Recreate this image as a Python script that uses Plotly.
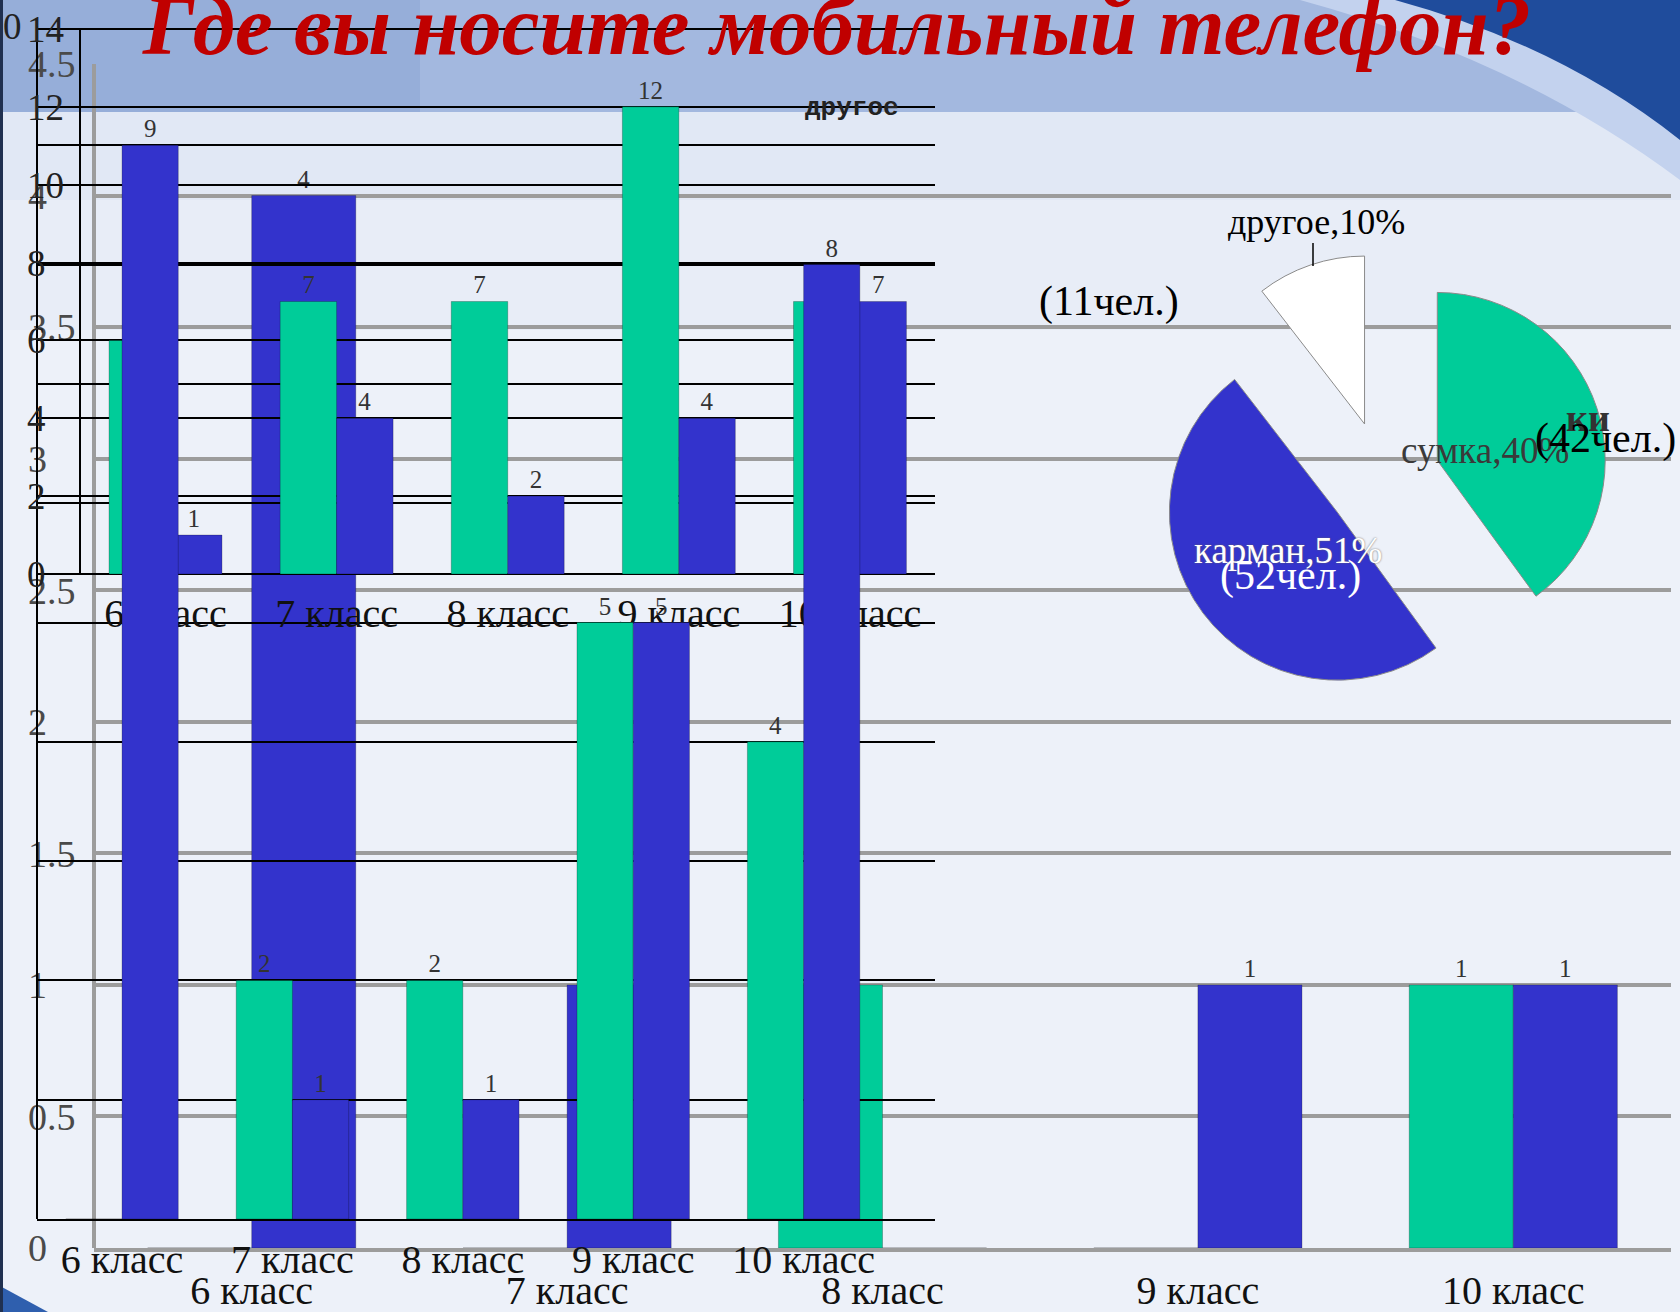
import plotly.graph_objects as go

W, H = 1680, 1312

grades = ["6 класс", "7 класс", "8 класс", "9 класс", "10 класс"]

# background chart (scale 0–4.5)
back_green = [0, 0, 1, 0, 1]
back_blue = [4, 1, 0, 1, 1]
back_ticks = [0, 0.5, 1, 1.5, 2, 2.5, 3, 3.5, 4, 4.5]

# middle chart (scale 0–10)
mid_green = [0, 2, 2, 5, 4]
mid_blue = [9, 1, 1, 5, 8]
mid_ticks = [0, 1, 2, 3, 4, 5, 6, 7, 8, 9, 10]
mid_ticktext = ["", "", "", "", "", "", "", "", "", "", "10"]

# top chart (scale 0–14)
top_green = [6, 7, 7, 12, 7]
top_blue = [1, 4, 2, 4, 7]
top_ticks = [0, 2, 4, 6, 8, 10, 12, 14]

# pie
pie_labels = ["сумка", "карман", "другое"]
pie_values = [42, 52, 11]
pie_percent = [40, 51, 10]

title_text = "Где вы носите мобильный телефон?"

GREEN = "#00CC99"
BLUE = "#3333CC"
FONT = "Liberation Serif"


def fx(p):
    return p / W


def fy(p):
    return 1 - p / H


def lbl(vals):
    return [str(v) if v else "" for v in vals]


fig = go.Figure()

bar_common = dict(
    textposition="outside",
    textfont=dict(family=FONT, size=25, color="#333333"),
    cliponaxis=False,
    constraintext="none",
    showlegend=False,
    hoverinfo="skip",
    marker_line=dict(width=0.8, color="rgba(0,0,0,0.3)"),
)

fig.add_trace(go.Bar(x=grades, y=back_green, text=lbl(back_green), marker_color=GREEN,
                     xaxis="x", yaxis="y", **bar_common))
fig.add_trace(go.Bar(x=grades, y=back_blue, text=lbl(back_blue), marker_color=BLUE,
                     xaxis="x", yaxis="y", **bar_common))
fig.add_trace(go.Bar(x=grades, y=top_green, text=lbl(top_green), marker_color=GREEN,
                     xaxis="x2", yaxis="y2", **bar_common))
fig.add_trace(go.Bar(x=grades, y=top_blue, text=lbl(top_blue), marker_color=BLUE,
                     xaxis="x2", yaxis="y2", **bar_common))
fig.add_trace(go.Bar(x=grades, y=mid_green, text=lbl(mid_green), marker_color=GREEN,
                     xaxis="x3", yaxis="y3", **bar_common))
fig.add_trace(go.Bar(x=grades, y=mid_blue, text=lbl(mid_blue), marker_color=BLUE,
                     xaxis="x3", yaxis="y3", **bar_common))

fig.add_trace(go.Pie(
    labels=pie_labels, values=pie_values,
    marker=dict(colors=[GREEN, BLUE, "white"], line=dict(color="#8a8a8a", width=1)),
    pull=[0.34, 0.34, 0.34], sort=False, direction="clockwise", rotation=0,
    textinfo="none", hoverinfo="skip", showlegend=False,
    domain=dict(x=[fx(1158), fx(1608)], y=[fy(703), fy(253)]),
))

tick_font_y = dict(family=FONT, size=37, color="#222222")
tick_font_x = dict(family=FONT, size=40, color="#111111")

fig.update_layout(
    template="none",
    width=W, height=H, autosize=False,
    margin=dict(l=0, r=0, t=0, b=0, pad=0),
    paper_bgcolor="#edf1f9",
    plot_bgcolor="rgba(0,0,0,0)",
    barmode="group", bargap=0.34, bargroupgap=0,
    showlegend=False,
    xaxis=dict(domain=[fx(94), fx(1671)], anchor="y", type="category", range=[-0.5, 4.5],
               showline=True, linecolor="#9c9c9c", linewidth=4, showgrid=False, ticks="",
               tickfont=tick_font_x, ticklabelstandoff=4, automargin=False),
    yaxis=dict(domain=[fy(1248), fy(64)], anchor="free", position=fx(27), side="right",
               range=[0, 4.5], tickvals=back_ticks, showgrid=True, gridcolor="#9c9c9c",
               gridwidth=4, zeroline=False, showline=False, ticks="", automargin=False,
               tickfont=dict(family=FONT, size=38, color="#4a4a4a")),
    xaxis2=dict(domain=[fx(37), fx(935)], anchor="free", position=fy(574), type="category",
                range=[-0.751, 4.497], showline=True, linecolor="black", linewidth=2,
                showgrid=False, ticks="", tickfont=tick_font_x, ticklabelstandoff=4,
                automargin=False, layer="below traces"),
    yaxis2=dict(domain=[fy(1219), fy(26)], anchor="free", position=fx(26), side="right",
                range=[-16.57, 14.077], tickvals=top_ticks, showgrid=True, gridcolor="black",
                gridwidth=1.5, zeroline=False, showline=False, ticks="", tickfont=tick_font_y,
                automargin=False),
    xaxis3=dict(overlaying="x2", anchor="y3", type="category", range=[-0.499, 4.771],
                showline=True, linecolor="black", linewidth=2, showgrid=False, ticks="",
                tickfont=tick_font_x, ticklabelstandoff=4, automargin=False),
    yaxis3=dict(overlaying="y2", anchor="free", position=fx(37), side="left", range=[0, 10],
                tickvals=mid_ticks, ticktext=mid_ticktext, showgrid=True, gridcolor="black",
                gridwidth=1.5, zeroline=False, showline=True, linecolor="black", linewidth=2,
                ticks="outside", ticklen=7, tickcolor="rgba(0,0,0,0)", tickfont=tick_font_y,
                automargin=False),
)

shapes = [
    # background decoration
    dict(type="rect", xref="paper", yref="paper", x0=0, x1=1, y0=fy(112), y1=1,
         fillcolor="#a3b8df", line_width=0, layer="below"),
    dict(type="rect", xref="paper", yref="paper", x0=0, x1=fx(420), y0=fy(112), y1=1,
         fillcolor="#96aed9", line_width=0, layer="below"),
    dict(type="rect", xref="paper", yref="paper", x0=0, x1=1, y0=fy(200), y1=fy(112),
         fillcolor="#e1e8f5", line_width=0, layer="below"),
    dict(type="rect", xref="paper", yref="paper", x0=0, x1=1, y0=fy(330), y1=fy(200),
         fillcolor="#e8edf7", line_width=0, layer="below"),
    dict(type="path", xref="paper", yref="paper",
         path=f"M {fx(1300)},{fy(0)} Q {fx(1520)},{fy(60)} {fx(1680)},{fy(180)} L {fx(1680)},{fy(0)} Z",
         fillcolor="#c3d2ee", line_width=0, layer="below"),
    dict(type="path", xref="paper", yref="paper",
         path=f"M {fx(1395)},{fy(0)} Q {fx(1560)},{fy(45)} {fx(1680)},{fy(140)} L {fx(1680)},{fy(0)} Z",
         fillcolor="#1f4c9c", line_width=0, layer="below"),
    dict(type="path", xref="paper", yref="paper",
         path=f"M {fx(0)},{fy(1286)} L {fx(48)},{fy(1312)} L {fx(0)},{fy(1312)} Z",
         fillcolor="#2f5fae", line_width=0, layer="below"),
    # left axis line of the background chart
    dict(type="line", xref="paper", yref="y", x0=fx(94), x1=fx(94), y0=0, y1=4.5,
         line=dict(color="#9c9c9c", width=4), layer="below"),
    # left axis line of the top chart
    dict(type="line", xref="paper", yref="y2", x0=fx(80), x1=fx(80), y0=0, y1=14,
         line=dict(color="black", width=2), layer="below"),
    # pie leader line
    dict(type="line", xref="paper", yref="paper", x0=fx(1313), x1=fx(1313), y0=fy(243), y1=fy(266),
         line=dict(color="black", width=1.5)),
    # dark left edge
    dict(type="line", xref="paper", yref="paper", x0=fx(1.5), x1=fx(1.5), y0=0, y1=1,
         line=dict(color="#203050", width=3)),
]
fig.update_layout(shapes=shapes)

paren_font = dict(family=FONT, size=42, color="black")
annotations = [
    dict(text=f"<b><i>{title_text}</i></b>", x=fx(836), y=fy(25), xanchor="center", yanchor="middle",
         font=dict(family=FONT, size=85, color="#C00000")),
    dict(text="<b>другое</b>", x=fx(852), y=fy(108), xanchor="center", yanchor="middle",
         font=dict(family="Liberation Mono", size=26, color="#222222")),
    dict(text=f"{pie_labels[2]},{pie_percent[2]}%", x=fx(1316), y=fy(222), xanchor="center",
         yanchor="middle", font=dict(family=FONT, size=36, color="black")),
    dict(text=f"({pie_values[2]}чел.)", x=fx(1109), y=fy(301), xanchor="center", yanchor="middle",
         font=paren_font),
    dict(text="<b>ки</b>", x=fx(1588), y=fy(418), xanchor="center", yanchor="middle",
         font=dict(family=FONT, size=38, color="#333333")),
    dict(text=f"{pie_labels[0]},{pie_percent[0]}%", x=fx(1485), y=fy(450), xanchor="center",
         yanchor="middle", font=dict(family=FONT, size=37, color="#3a3a3a")),
    dict(text=f"({pie_values[0]}чел.)", x=fx(1605), y=fy(438), xanchor="center", yanchor="middle",
         font=paren_font),
    dict(text=f"{pie_labels[1]},{pie_percent[1]}%", x=fx(1288), y=fy(550), xanchor="center",
         yanchor="middle", font=dict(family=FONT, size=37, color="white", shadow="0px 0px 2px #666")),
    dict(text=f"({pie_values[1]}чел.)", x=fx(1290), y=fy(576), xanchor="center", yanchor="middle",
         font=dict(family=FONT, size=42, color="white")),
]
for a in annotations:
    a.update(xref="paper", yref="paper", showarrow=False)
fig.update_layout(annotations=annotations)

fig.write_html(
    "out.html",
    config={"displayModeBar": False},
    post_script="document.body.style.margin='0';document.body.style.overflow='hidden';",
)
